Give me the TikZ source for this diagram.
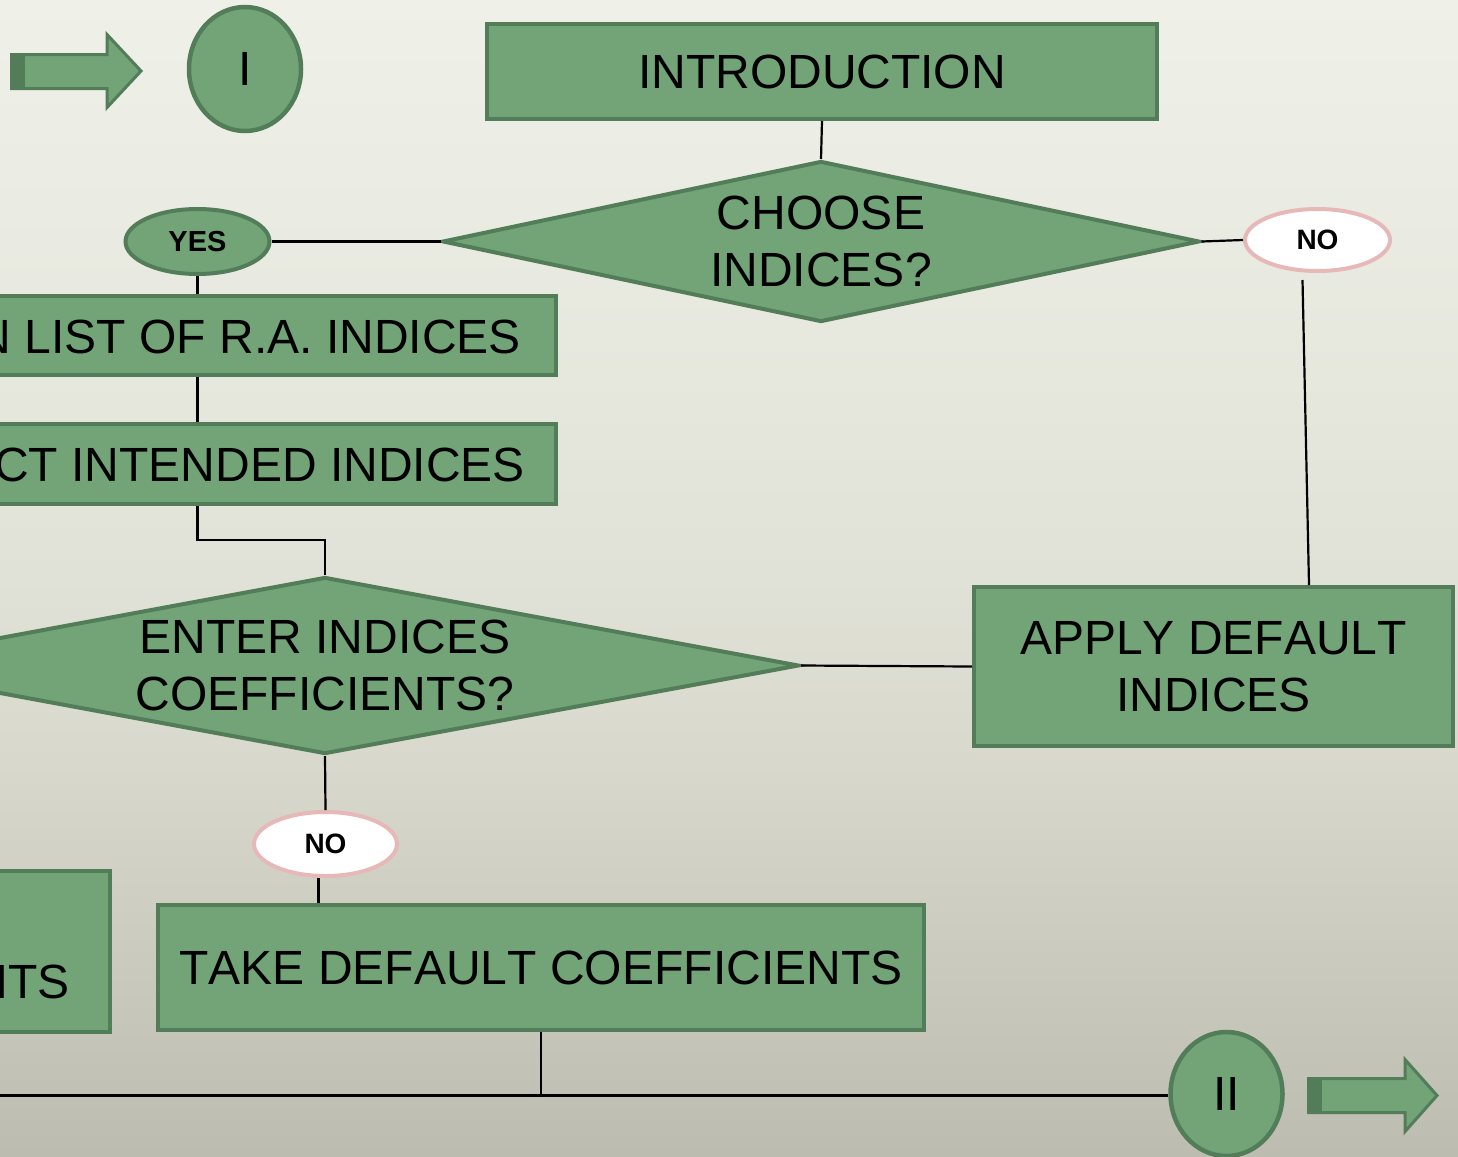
\documentclass[tikz,border=0pt]{standalone}
\usepackage{fontspec}
\setmainfont[Kerning=Off]{Liberation Sans}
\usetikzlibrary{shapes.geometric,calc}
\definecolor{gfill}{RGB}{114,164,120}
\definecolor{gline}{RGB}{82,125,88}
\definecolor{pinkline}{RGB}{230,185,184}
\definecolor{bgtop}{RGB}{239,240,232}
\definecolor{bgmid}{RGB}{225,226,215}
\definecolor{bglow}{RGB}{216,216,205}
\definecolor{bgbot}{RGB}{189,188,176}
\pgfdeclareverticalshading{bgshade}{100bp}{color(0bp)=(bgbot); color(25bp)=(bgbot); color(42bp)=(bglow); color(50bp)=(bgmid); color(75bp)=(bgtop); color(100bp)=(bgtop)}
\tikzset{
  gbox/.style={draw=gline, fill=gfill, line width=4bp, rectangle, inner sep=0pt,
    font=\fontsize{48bp}{57bp}\selectfont, align=center},
  gdiam/.style={draw=gline, fill=gfill, line width=4bp, diamond, inner sep=0pt},
  gell/.style={draw=gline, fill=gfill, line width=4.5bp, ellipse, inner sep=0pt,
    font=\fontsize{48bp}{57bp}\selectfont},
  lbl/.style={ellipse, inner sep=0pt, line width=4bp, font=\bfseries\fontsize{28bp}{32bp}\selectfont},
  yeslbl/.style={lbl, draw=gline, fill=gfill, font=\bfseries\fontsize{29bp}{32bp}\selectfont},
  nolbl/.style={lbl, draw=pinkline, fill=white},
  bigtext/.style={inner sep=0pt, font=\fontsize{48bp}{57bp}\selectfont, align=center},
  conn/.style={draw=black, line width=2.2bp},
  bigarrow/.style={draw=gline, fill=gfill, line width=3bp, line join=miter}
}
\begin{document}
\begin{tikzpicture}[x=1bp,y=-1bp]
\useasboundingbox (0,0) rectangle (1458,1156);
\clip (0,0) rectangle (1458,1156);
\shade[shading=bgshade] (0,0) rectangle (1458,1156);

% decorative arrows
\draw[bigarrow] (12,54.5) -- (107,54.5) -- (107,34.5) -- (141,71) -- (107,107.5) -- (107,88.5) -- (12,88.5) -- cycle;
\fill[gline] (10,53) rectangle (25,90);
\draw[bigarrow] (1309,1078.5) -- (1405,1078.5) -- (1405,1059.5) -- (1437,1095.5) -- (1405,1131.5) -- (1405,1112.5) -- (1309,1112.5) -- cycle;
\fill[gline] (1307,1077) rectangle (1322,1114);

% nodes
\node[gell, minimum width=112bp, minimum height=124bp] (ci) at (245,69) {I};
\node[gell, minimum width=112bp, minimum height=124bp] (cii) at (1226.5,1094) {II};
\node[gbox, minimum width=670bp, minimum height=95bp] (intro) at (822,71.5) {INTRODUCTION};
\node[gdiam, minimum width=757bp, minimum height=161bp] (d1) at (821,241.5) {};
\node[bigtext] (d1t) at (d1.center) {CHOOSE\\INDICES?};
\node[yeslbl, minimum width=144bp, minimum height=65bp] (yes) at (197.5,241.5) {YES};
\node[nolbl, minimum width=145bp, minimum height=62bp] (no1) at (1317.5,240) {NO};
\node[gbox, minimum width=754bp, minimum height=79bp] (box1) at (179,335.5) {};
\node[bigtext, anchor=east] (box1t) at (521,336.5) {N LIST OF R.A. INDICES};
\node[gbox, minimum width=754bp, minimum height=80bp] (box2) at (179,464) {};
\node[bigtext, anchor=east] (box2t) at (525,465) {CT INTENDED INDICES};
\node[gdiam, minimum width=948bp, minimum height=177bp] (d2) at (325,665.5) {};
\node[bigtext] (d2t) at (d2.center) {ENTER INDICES\\COEFFICIENTS?};
\node[gbox, minimum width=479bp, minimum height=159bp] (apply) at (1213.5,666.5) {APPLY DEFAULT\\INDICES};
\node[nolbl, minimum width=143bp, minimum height=64bp] (no2) at (325.5,844) {NO};
\node[gbox, minimum width=766bp, minimum height=125bp] (take) at (541,967.5) {TAKE DEFAULT COEFFICIENTS};
\node[gbox, minimum width=408bp, minimum height=161bp] (box3) at (-94,951.5) {};
\node[bigtext, anchor=base east] (box3t) at (70,998) {NTS};

% connectors
\coordinate (n1s) at ($(no1.south)+(-15,7)$);
\coordinate (n2s) at ($(no2.south)+(-7,0)$);
\coordinate (leftend) at (-20,1095.5);
\draw[conn] (intro.south) -- (d1.north);
\draw[conn] (yes.east) -- (d1.west);
\draw[conn] (d1.east) -- (no1.west);
\draw[conn] (n1s) -- ($(apply.north)+(95.5,0)$);
\draw[conn] (yes.south) -- (yes.south |- box1.north);
\draw[conn] (yes.south |- box1.south) -- (yes.south |- box2.north);
\draw[conn] (yes.south |- box2.south) -- ++(0,34) -| (d2.north);
\draw[conn] (d2.east) -- (apply.west);
\draw[conn] (d2.south) -- (no2.north);
\draw[conn] (n2s) -- (n2s |- take.north);
\draw[conn] (take.south) -- (take.south |- leftend);
\draw[conn] (leftend) -- (leftend -| cii.west);
\end{tikzpicture}
\end{document}
